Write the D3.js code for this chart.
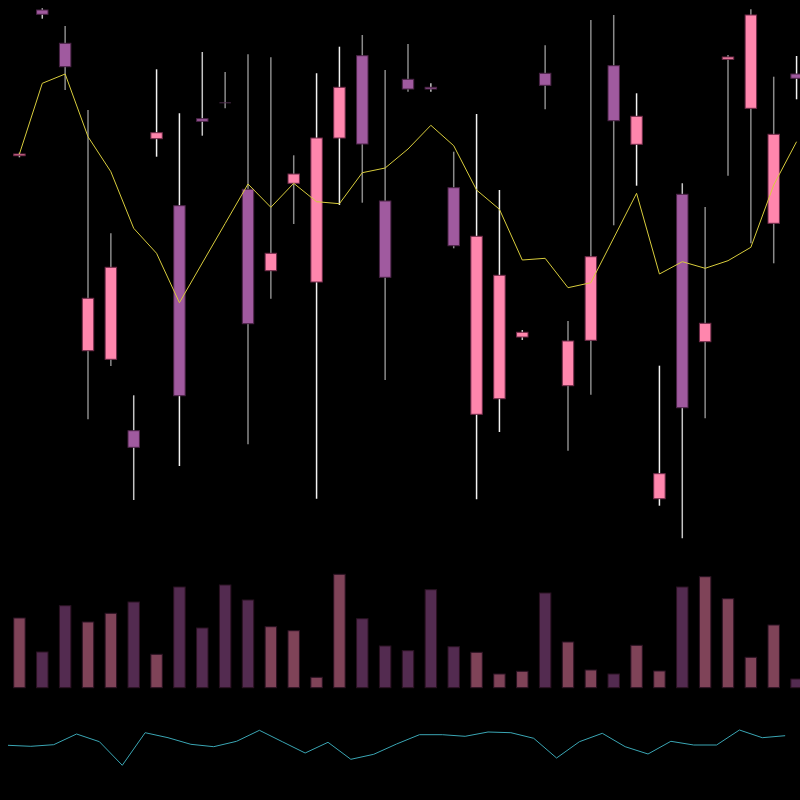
<!DOCTYPE html>
<html>
<head>
<meta charset="utf-8">
<script src="https://cdn.jsdelivr.net/npm/d3@7"></script>
<style>
  html, body { margin: 0; padding: 0; background: #000; }
  svg { display: block; }
</style>
</head>
<body>
<svg id="chart" width="800" height="800"></svg>
<script>
// ---- data ----
const opens  = [78.86,108,101.34,39.86,38.14,23.86,82.26,68.86,86.26,89.54,72.14,55.86,73.34,53.6,82.4,98.86,69.8,94.14,92.54,72.46,27.14,30.26,42.6,95.34,32.86,41.94,96.86,81.14,10.26,71.14,41.66,98.14,88.34,65.34,95.2];
const highs  = [79.46,108.34,104.8,88,63.34,30.94,96.14,87.34,99.6,95.6,99.14,98.54,78.94,95.34,100.66,103,96,101.2,93.34,79.66,87.2,72,44,100.94,45.8,106,107,91.34,36.86,73.34,68.6,99,108.14,94.66,98.8];
const lows   = [78.54,106.26,92,26.14,36.8,10,78.66,16.8,82.86,88.34,21.14,50.26,65.2,10.26,69,69.46,34,91.66,91.66,60.34,10.14,23.6,42,88.14,19.86,31.06,64.94,72.86,8.86,2.34,26.34,74.86,61.34,57.34,90.14];
const closes = [79.2,107.14,96.66,50.34,56.54,20.54,83.46,30.86,85.74,89.54,45.26,59.34,75.2,82.4,92.54,81.2,54.54,92.2,92.2,60.86,62.74,54.94,43.54,92.94,41.8,58.66,85.86,86.74,15.26,28.46,45.34,98.6,107,83.14,94.34];
const average = [79.2,93.34,95.2,82.66,75.66,64.34,59.34,49.46,57.4,65.3,73.2,68.54,73.34,69.66,69.26,75.46,76.4,80.2,84.94,80.86,72,68.14,58,58.34,52.46,53.46,62.4,71.34,55.2,57.66,56.34,57.86,60.54,73,81.66];
const volumes = [69.7,35.7,82,65.7,74.4,85.7,33.4,100.7,59.7,102.7,87.7,61,57,10.4,113.4,69,41.7,37,98,41,35.4,13.7,16.4,94.7,45.7,17.7,13.7,42.4,16.7,100.7,111,89,30.4,62.7,8.7];
const oscillator = [54.7,53.7,55.3,66,58.3,34.7,67.3,62.3,55.7,53.3,58.7,69.7,58.3,47,57.7,40.7,45.7,56,65.3,65.3,63.7,68,67.3,61.7,42,58.3,66.7,53.3,46,58.7,55,55,70,62.3,64.3];

// ---- styling ----
const wickTone = ["l","l","g","g","g","l","w","w","l","g","g","g","g","w","w","g","g","g","l","g","w","w","l","g","g","g","g","w","w","l","g","g","g","g","w"];
const toneColor = { w: "#f2f2f2", l: "#c4c4c4", g: "#8a8a8a" };
const upFill = "#ff86ad", downFill = "#a05a9f";
const upVol = "#7f4358", downVol = "#532b50";

const idx = d3.range(opens.length);
const svg = d3.select("#chart");
svg.append("rect").attr("width", 800).attr("height", 800).attr("fill", "#000");

const x = d3.scaleBand().domain(idx).range([8, 808]).padding(0);
const bw = x.bandwidth();
const cx = i => x(i) + bw / 2;
const y = d3.scaleLinear().domain([0, 110]).range([550, 0]);
const yv = d3.scaleLinear().domain([0, 120]).range([687.7, 567.7]);
const yo = d3.scaleLinear().domain([0, 100]).range([800, 700]);
const bodyW = bw * 0.5;

// wicks
svg.append("g").selectAll("line").data(idx).join("line")
  .attr("x1", i => cx(i)).attr("x2", i => cx(i))
  .attr("y1", i => y(highs[i])).attr("y2", i => y(lows[i]))
  .attr("stroke", i => toneColor[wickTone[i]])
  .attr("stroke-width", 1.5);

// bodies
svg.append("g").selectAll("rect").data(idx).join("rect")
  .attr("x", i => cx(i) - bodyW / 2)
  .attr("width", bodyW)
  .attr("y", i => y(Math.max(opens[i], closes[i])))
  .attr("height", i => Math.max(1, Math.abs(y(opens[i]) - y(closes[i]))))
  .attr("fill", i => opens[i] === closes[i] ? "#4e2c4c" : (closes[i] > opens[i] ? upFill : downFill))
  .attr("stroke", i => opens[i] === closes[i] ? "none" : (closes[i] > opens[i] ? "#6e2a48" : "#4a2446"))
  .attr("stroke-width", 1);

// average line
svg.append("path")
  .datum(idx)
  .attr("fill", "none")
  .attr("stroke", "#d8cc3c")
  .attr("stroke-width", 1)
  .attr("d", d3.line().x(i => cx(i)).y(i => y(average[i])));

// volume bars
svg.append("g").selectAll("rect").data(idx).join("rect")
  .attr("x", i => cx(i) - bodyW / 2)
  .attr("width", bodyW)
  .attr("y", i => yv(volumes[i]))
  .attr("height", i => yv(0) - yv(volumes[i]))
  .attr("fill", i => closes[i] > opens[i] ? upVol : downVol)
  .attr("stroke", "#2a1222")
  .attr("stroke-width", 1);

// oscillator line
svg.append("path")
  .datum(idx)
  .attr("fill", "none")
  .attr("stroke", "#3aa6b4")
  .attr("stroke-width", 1)
  .attr("d", d3.line().x(i => x(i)).y(i => yo(oscillator[i])));
</script>
</body>
</html>
